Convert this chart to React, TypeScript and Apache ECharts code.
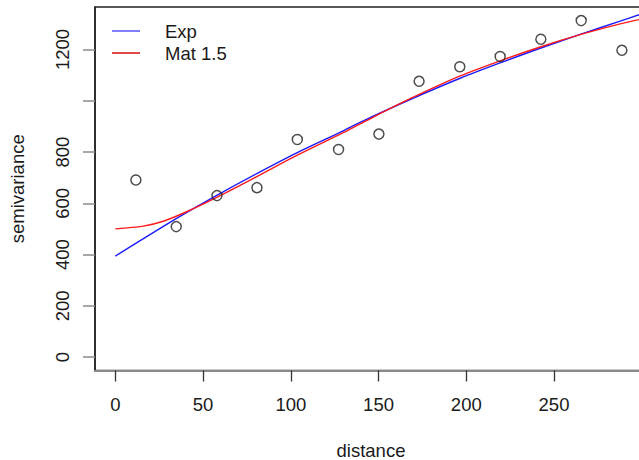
import React, { useEffect, useRef } from "react";
import * as echarts from "echarts";

// Empirical variogram (binned)
const binDistance = [11.7, 34.7, 57.9, 80.7, 103.7, 127.2, 150.2, 173.1, 196.3, 219.3, 242.5, 265.5, 288.7];
const binSemivariance = [691, 509, 630, 661, 849, 810, 870, 1076, 1133, 1173, 1240, 1313, 1197];

// Fitted model "Exp"
const expDistance = [0, 34.9, 57.8, 80.6, 103.4, 129.9, 139.5, 168, 196.5, 219.3, 242.1, 264.9, 287.7, 298.6];
const expSemivariance = [394, 541, 631, 716, 797, 883, 916, 1005, 1088, 1148, 1205, 1259, 1311, 1336];

// Fitted model "Mat 1.5"
const matDistance = [0, 15.9, 27.3, 40.6, 57.8, 80.6, 103.4, 129.9, 139.5, 168, 196.5, 219.3, 242.1, 264.9, 287.7, 298.6];
const matSemivariance = [500, 511, 530, 567, 623, 704, 787, 876, 910, 1008, 1097, 1156, 1210, 1258, 1300, 1317];

const xTicks = [0, 50, 100, 150, 200, 250];
const yTicks = [0, 200, 400, 600, 800, 1000, 1200];
const yLabels = [0, 200, 400, 600, 800, 1200];

const legendNames = ["Exp", "Mat 1.5"];

export default function App() {
  const ref = useRef<HTMLDivElement>(null);
  useEffect(() => {
    if (!ref.current) return;
    const chart = echarts.init(ref.current, null, { renderer: "svg" });
    const font = "Liberation Sans, Arial, Helvetica, sans-serif";
    const textColor = "#1a1a1a";
    const fs = 18.5;
    chart.setOption({
      animation: false,
      backgroundColor: "#ffffff",
      grid: {
        left: 95,
        top: 7,
        right: -8,
        bottom: 89.5,
        outerBoundsMode: "none",
        containLabel: false,
        show: true,
        borderColor: "#222222",
        borderWidth: 1.5,
        backgroundColor: "transparent",
      },
      xAxis: {
        type: "value",
        min: -11.6,
        max: 303,
        name: "distance",
        nameLocation: "middle",
        nameGap: 70,
        nameTextStyle: { fontFamily: font, fontSize: fs, color: textColor },
        axisLine: { show: true, onZero: false, lineStyle: { color: "#8a8a8a", width: 2 } },
        axisTick: {
          show: true,
          length: 11,
          customValues: xTicks,
          lineStyle: { color: "#333333", width: 1.3 },
        },
        axisLabel: {
          customValues: xTicks,
          margin: 24,
          fontFamily: font,
          fontSize: fs,
          color: textColor,
          formatter: (v: number) => String(v),
        },
        splitLine: { show: false },
      },
      yAxis: {
        type: "value",
        min: -52.5,
        max: 1366,
        name: "semivariance",
        nameLocation: "middle",
        nameGap: 68,
        nameTextStyle: { fontFamily: font, fontSize: fs, color: textColor },
        axisLine: { show: true, onZero: false, lineStyle: { color: "#222222", width: 1.5 } },
        axisTick: {
          show: true,
          length: 12,
          customValues: yTicks,
          lineStyle: { color: "#8a8a8a", width: 1.5 },
        },
        axisLabel: {
          customValues: yLabels,
          rotate: 90,
          margin: 23,
          fontFamily: font,
          fontSize: fs,
          color: textColor,
          formatter: (v: number) => String(v),
        },
        splitLine: { show: false },
      },
      graphic: [
        { type: "line", shape: { x1: 112, y1: 31, x2: 140, y2: 31 }, style: { stroke: "#8080ff", lineWidth: 2 } },
        { type: "text", x: 165, y: 31, style: { text: legendNames[0], fontFamily: font, fontSize: fs, fill: textColor, verticalAlign: "middle", align: "left" } },
        { type: "line", shape: { x1: 112, y1: 53, x2: 140, y2: 53 }, style: { stroke: "#e04848", lineWidth: 2 } },
        { type: "text", x: 165, y: 53, style: { text: legendNames[1], fontFamily: font, fontSize: fs, fill: textColor, verticalAlign: "middle", align: "left" } },
      ],
      series: [
        {
          name: legendNames[0],
          type: "line",
          data: expDistance.map((d, i) => [d, expSemivariance[i]]),
          smooth: 0.3,
          symbol: "none",
          showSymbol: false,
          lineStyle: { color: "#1a1aff", width: 1.4 },
          z: 2,
        },
        {
          name: legendNames[1],
          type: "line",
          data: matDistance.map((d, i) => [d, matSemivariance[i]]),
          smooth: 0.3,
          symbol: "none",
          showSymbol: false,
          lineStyle: { color: "#ff1a1a", width: 1.4 },
          z: 3,
        },
        {
          type: "scatter",
          data: binDistance.map((d, i) => [d, binSemivariance[i]]),
          symbol: "circle",
          symbolSize: 10,
          itemStyle: { color: "rgba(0,0,0,0)", borderColor: "#222222", borderWidth: 1.5 },
          z: 4,
        },
      ],
    });
    return () => chart.dispose();
  }, []);
  return <div ref={ref} style={{ position: "fixed", left: 0, top: 0, width: 639, height: 460 }} />;
}
